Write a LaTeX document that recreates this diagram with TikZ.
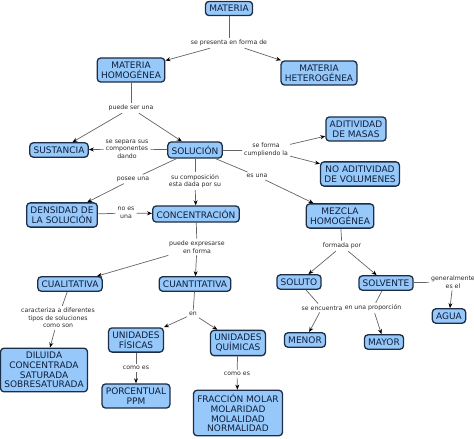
\documentclass[tikz,border=0pt]{standalone}
\usepackage{fontspec}
\setmainfont{DejaVu Sans}
\usetikzlibrary{arrows.meta}
\definecolor{boxfill}{RGB}{150,200,250}
\definecolor{boxline}{RGB}{30,45,70}
\definecolor{boxtext}{RGB}{15,30,60}
\definecolor{linkcol}{RGB}{100,100,100}
\definecolor{labtext}{RGB}{40,40,40}
\tikzset{
  concept/.style={draw=boxline, fill=boxfill, line width=1.3pt, rounded corners=3.5pt,
    text=boxtext, font=\fontsize{9}{9.8}\selectfont, align=center,
    inner xsep=3.8pt, inner ysep=3.8pt},
  lab/.style={text=labtext, font=\fontsize{6.2}{7.5}\selectfont, align=center, inner sep=2pt},
  link/.style={draw=linkcol, line width=0.7pt},
  arr/.style={link, -{Stealth[length=5pt,width=4pt,color=black]}}
}
\begin{document}
\begin{tikzpicture}[x=1pt,y=-1pt]
\useasboundingbox (0,0) rectangle (474,439);
\node[concept] (mat) at (229,8.5) {MATERIA};
\node[concept] (mho) at (131,70) {MATERIA\\HOMOGÉNEA};
\node[concept] (mhe) at (319,73) {MATERIA\\HETEROGÉNEA};
\node[lab] (l1) at (229,43) {se presenta en forma de};
\node[lab] (l2) at (131,108) {puede ser una};
\node[concept] (sus) at (59,150) {SUSTANCIA};
\node[concept] (sol) at (195,150) {SOLUCIÓN};
\node[lab] (l3) at (127,149) {se separa sus\\componentes\\dando};
\node[concept] (adm) at (356,129) {ADITIVIDAD\\DE MASAS};
\node[concept] (nad) at (360,174) {NO ADITIVIDAD\\DE VOLUMENES};
\node[lab] (l4) at (266,150) {se forma\\cumpliendo la};
\node[lab] (l5) at (133,179) {posee una};
\node[concept] (den) at (62,215) {DENSIDAD DE\\LA SOLUCIÓN};
\node[lab] (l6) at (195,181) {su composición\\esta dada por su};
\node[concept] (con) at (196,214) {CONCENTRACIÓN};
\node[lab] (l7) at (126,213) {no es\\una};
\node[lab] (l8) at (257,176) {es una};
\node[concept] (mez) at (340,216) {MEZCLA\\HOMOGÉNEA};
\node[lab] (l9) at (197,247) {puede expresarse\\en forma};
\node[concept] (cua) at (70,284) {CUALITATIVA};
\node[concept] (cun) at (195,284) {CUANTITATIVA};
\node[lab] (l10) at (342,246) {formada por};
\node[concept] (sto) at (299,282) {SOLUTO};
\node[concept] (sve) at (386,283) {SOLVENTE};
\node[lab] (l11) at (453,282) {generalmente\\es el};
\node[concept] (agu) at (449,316) {AGUA};
\node[lab] (l12) at (322,308) {se encuentra};
\node[lab] (l13) at (373,308) {en una proporción};
\node[concept] (men) at (305,340) {MENOR};
\node[concept] (may) at (384,342) {MAYOR};
\node[lab] (l14) at (58,318) {caracteriza a diferentes\\tipos de soluciones\\como son};
\node[concept] (dil) at (44,370) {DILUIDA\\CONCENTRADA\\SATURADA\\SOBRESATURADA};
\node[lab] (l15) at (193,314) {en};
\node[concept] (uf) at (136,340) {UNIDADES\\FÍSICAS};
\node[concept] (uq) at (238,343) {UNIDADES\\QUÍMICAS};
\node[lab] (l16) at (136,368) {como es};
\node[concept] (por) at (136,396) {PORCENTUAL\\PPM};
\node[lab] (l17) at (237,374) {como es};
\node[concept] (fra) at (238,413) {FRACCIÓN MOLAR\\MOLARIDAD\\MOLALIDAD\\NORMALIDAD};
% links
\draw[link] (mat) -- (l1);
\draw[arr] (l1) -- (mho);
\draw[arr] (l1) -- (mhe);
\draw[link] (mho) -- (l2);
\draw[arr] (l2) -- (sus);
\draw[arr] (l2) -- (sol);
\draw[link] (sol) -- (l3);
\draw[arr] (l3) -- (sus);
\draw[link] (sol) -- (l4);
\draw[arr] (l4) -- (adm);
\draw[arr] (l4) -- (nad);
\draw[link] (sol) -- (l5);
\draw[arr] (l5) -- (den);
\draw[link] (sol) -- (l6);
\draw[arr] (l6) -- (con);
\draw[link] (den) -- (l7);
\draw[arr] (l7) -- (con);
\draw[link] (sol) -- (l8);
\draw[arr] (l8) -- (mez);
\draw[link] (con) -- (l9);
\draw[arr] (l9) -- (cua);
\draw[arr] (l9) -- (cun);
\draw[link] (mez) -- (l10);
\draw[arr] (l10) -- (sto);
\draw[arr] (l10) -- (sve);
\draw[link] (sve) -- (l11);
\draw[arr] (l11) -- (agu);
\draw[link] (sto) -- (l12);
\draw[arr] (l12) -- (men);
\draw[link] (sve) -- (l13);
\draw[arr] (l13) -- (may);
\draw[link] (cua) -- (l14);
\draw[arr] (l14) -- (dil);
\draw[link] (cun) -- (l15);
\draw[arr] (l15) -- (uf);
\draw[arr] (l15) -- (uq);
\draw[link] (uf) -- (l16);
\draw[arr] (l16) -- (por);
\draw[link] (uq) -- (l17);
\draw[arr] (l17) -- (fra);
\end{tikzpicture}
\end{document}
